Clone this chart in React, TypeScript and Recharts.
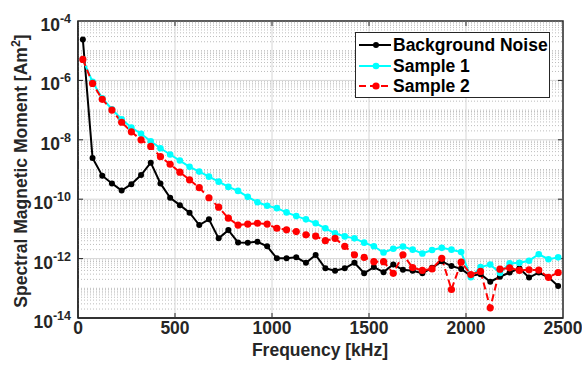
import React from 'react';
import { LineChart, Line, XAxis, YAxis, ReferenceLine, ReferenceArea } from 'recharts';

const FONT = '"Liberation Sans", Arial, sans-serif';
const TEXT = '#262626';

// frequency of each point [kHz]
const freqs = [
  25, 75, 125, 175, 225, 275, 325, 375, 425, 475,
  525, 575, 625, 675, 725, 775, 825, 875, 925, 975,
  1025, 1075, 1125, 1175, 1225, 1275, 1325, 1375, 1425, 1475,
  1525, 1575, 1625, 1675, 1725, 1775, 1825, 1875, 1925, 1975,
  2025, 2075, 2125, 2175, 2225, 2275, 2325, 2375, 2425, 2475,
];

// spectral magnetic moment [Am^2]
const backgroundNoise = [
  2.4e-5, 2.45e-9, 6.2e-10, 3.4e-10, 1.95e-10, 3.2e-10, 6.5e-10, 1.7e-9, 3.4e-10, 1.12e-10,
  6.3e-11, 3.5e-11, 1.35e-11, 2.1e-11, 4.8e-12, 9.1e-12, 3.5e-12, 3.45e-12, 3.7e-12, 2.6e-12,
  1.02e-12, 1.02e-12, 1.1e-12, 7.2e-13, 1.32e-12, 4.7e-13, 3.9e-13, 4.7e-13, 7.2e-13, 3.2e-13,
  5.2e-13, 3.5e-13, 6.3e-13, 4.2e-13, 3.9e-13, 3.2e-13, 4.9e-13, 8.1e-13, 5.6e-13, 4.5e-13,
  2.6e-13, 3.0e-13, 1.66e-13, 2.45e-13, 3.4e-13, 4.7e-13, 2.3e-13, 3.4e-13, 2.35e-13, 1.2e-13,
];

const sample1 = [
  5.1e-6, 8.9e-7, 2.5e-7, 1.07e-7, 4.9e-8, 2.6e-8, 1.6e-8, 8.9e-9, 5.2e-9, 3.2e-9,
  2.0e-9, 1.23e-9, 8.5e-10, 5.75e-10, 3.9e-10, 2.6e-10, 1.9e-10, 1.2e-10, 7.9e-11, 6.0e-11,
  5.0e-11, 3.6e-11, 2.7e-11, 2.1e-11, 1.55e-11, 1.05e-11, 7.1e-12, 5.6e-12, 4.8e-12, 3.45e-12,
  2.6e-12, 1.6e-12, 2.15e-12, 2.55e-12, 2.0e-12, 1.48e-12, 1.95e-12, 2.3e-12, 2.0e-12, 1.66e-12,
  2.35e-13, 5.2e-13, 6.3e-13, 3.3e-13, 6.9e-13, 7.2e-13, 8.5e-13, 1.4e-12, 9.5e-13, 1.1e-12,
];

const sample2 = [
  5.1e-6, 7.9e-7, 2.3e-7, 1.0e-7, 3.9e-8, 1.86e-8, 1.0e-8, 6.0e-9, 2.7e-9, 1.5e-9,
  8.1e-10, 4.5e-10, 2.45e-10, 1.12e-10, 5.4e-11, 2.3e-11, 1.35e-11, 1.45e-11, 1.55e-11, 1.45e-11,
  1.05e-11, 9.3e-12, 8.1e-12, 6.3e-12, 5.75e-12, 4.0e-12, 4.8e-12, 2.6e-12, 1.35e-12, 1.1e-12,
  7.9e-13, 7.9e-13, 3.2e-13, 1.35e-12, 5.0e-13, 4.0e-13, 4.5e-13, 1.02e-12, 9.1e-14, 7.6e-13,
  2.9e-13, 3.7e-13, 2.2e-14, 4.4e-13, 4.9e-13, 4.0e-13, 4.2e-13, 4.1e-13, 2.35e-13, 3.4e-13,
];

const xTicks = [0, 500, 1000, 1500, 2000, 2500];
const yTicks = [1e-14, 1e-12, 1e-10, 1e-8, 1e-6, 1e-4];

const data = freqs.map((f, i) => ({
  f,
  noise: backgroundNoise[i],
  s1: sample1[i],
  s2: sample2[i],
}));

// log grid: solid at labelled decades, dotted everywhere else
const majorY = [1e-12, 1e-10, 1e-8, 1e-6];
const minorY: number[] = [];
for (let e = -14; e < -4; e++) {
  for (let m = 1; m <= 9; m++) {
    if (m === 1 && e % 2 === 0) continue;
    minorY.push(m * Math.pow(10, e));
  }
}
const majorX = [500, 1000, 1500, 2000];
// inward tick marks, ~5px long
const TICK_X = 26;
const TICK_Y = 1.47;

const series = [
  { key: 'noise', name: 'Background Noise', color: '#000000', dash: undefined, r: 3 },
  { key: 's1', name: 'Sample 1', color: '#00ffff', dash: undefined, r: 3.3 },
  { key: 's2', name: 'Sample 2', color: '#ff0000', dash: '7 4', r: 3.6 },
];

const XTick = (props: any) => {
  const { x, y, payload } = props;
  return (
    <text x={x} y={y + 16} textAnchor="middle" fontSize={17.5} fontWeight="bold" fill={TEXT} fontFamily={FONT}>
      {payload.value}
    </text>
  );
};

const YTick = (props: any) => {
  const { x, y, payload } = props;
  const exp = Math.round(Math.log10(payload.value));
  return (
    <text x={x - 7} y={y + 10} textAnchor="end" fontSize={17.5} fontWeight="bold" fill={TEXT} fontFamily={FONT}>
      <tspan>10</tspan>
      <tspan dy={-8} fontSize={12.5}>{String(exp)}</tspan>
    </text>
  );
};

const LegendBox = () => (
  <div
    style={{
      position: 'absolute', left: 355, top: 32, width: 195, height: 66,
      boxSizing: 'border-box', border: `1.5px solid ${TEXT}`, background: '#fff',
      fontFamily: FONT, fontWeight: 'bold', fontSize: 17.5, color: '#000',
    }}
  >
    {series.map((s, i) => (
      <div key={s.key} style={{ position: 'absolute', left: 0, top: 2 + i * 20.5, height: 20, width: 192, display: 'flex', alignItems: 'center' }}>
        <svg width={37} height={20} style={{ flex: 'none' }}>
          <line x1={3} x2={35} y1={10} y2={10} stroke={s.color} strokeWidth={2} strokeDasharray={s.dash} />
          <circle cx={20} cy={10} r={s.r} fill={s.color} />
        </svg>
        <span style={{ lineHeight: '20px', whiteSpace: 'nowrap' }}>{s.name}</span>
      </div>
    ))}
  </div>
);

export default function App() {
  return (
    <div style={{ position: 'absolute', left: 0, top: 0, width: 582, height: 365, background: '#fff', overflow: 'hidden' }}>
      <LineChart width={582} height={365} data={data} margin={{ top: 21, right: 19, bottom: 0, left: 0 }}>
        <XAxis
          dataKey="f"
          type="number"
          domain={[0, 2500]}
          ticks={xTicks}
          height={47}
          tickSize={0}
          tickMargin={0}
          tickLine={false}
          tick={<XTick />}
          axisLine={{ stroke: TEXT, strokeWidth: 1.5 }}
          interval={0}
        />
        <YAxis
          type="number"
          scale="log"
          domain={[1e-14, 1e-4]}
          allowDataOverflow
          ticks={yTicks}
          width={78}
          tickSize={0}
          tickMargin={0}
          tickLine={false}
          tick={<YTick />}
          axisLine={{ stroke: TEXT, strokeWidth: 1.5 }}
          interval={0}
        />
        {minorY.map((v) => (
          <ReferenceLine key={`mn${v}`} y={v} stroke="#bdbdbd" strokeWidth={1} strokeDasharray="1 2" />
        ))}
        {majorY.map((v) => (
          <ReferenceLine key={`mj${v}`} y={v} stroke="#d6d6d6" strokeWidth={1} />
        ))}
        {majorX.map((v) => (
          <ReferenceLine key={`mx${v}`} x={v} stroke="#d6d6d6" strokeWidth={1} />
        ))}
        {majorX.map((v) => (
          <ReferenceLine key={`tb${v}`} segment={[{ x: v, y: 1e-14 }, { x: v, y: 1e-14 * TICK_Y }]} stroke={TEXT} strokeWidth={1} />
        ))}
        {majorX.map((v) => (
          <ReferenceLine key={`tt${v}`} segment={[{ x: v, y: 1e-4 }, { x: v, y: 1e-4 / TICK_Y }]} stroke={TEXT} strokeWidth={1} />
        ))}
        {majorY.map((v) => (
          <ReferenceLine key={`tl${v}`} segment={[{ x: 0, y: v }, { x: TICK_X, y: v }]} stroke={TEXT} strokeWidth={1} />
        ))}
        {majorY.map((v) => (
          <ReferenceLine key={`tr${v}`} segment={[{ x: 2500 - TICK_X, y: v }, { x: 2500, y: v }]} stroke={TEXT} strokeWidth={1} />
        ))}
        {series.map((s) => (
          <Line
            key={s.key}
            dataKey={s.key}
            name={s.name}
            type="linear"
            stroke={s.color}
            strokeWidth={2}
            strokeDasharray={s.dash}
            dot={{ r: s.r, fill: s.color, stroke: s.color, strokeWidth: 0, strokeDasharray: '' }}
            activeDot={false}
            isAnimationActive={false}
          />
        ))}
        <ReferenceArea x1={0} x2={2500} y1={1e-14} y2={1e-4} fill="none" stroke={TEXT} strokeWidth={1.5} />
      </LineChart>
      <LegendBox />
      <div
        style={{
          position: 'absolute', left: 21 - 170, top: 171 - 10, width: 340, height: 20, lineHeight: '20px',
          textAlign: 'center', transform: 'rotate(-90deg)', fontFamily: FONT, fontWeight: 'bold', fontSize: 17.5, color: TEXT,
          whiteSpace: 'nowrap',
        }}
      >
        Spectral Magnetic Moment [Am<sup style={{ fontSize: 12.5, lineHeight: 0 }}>2</sup>]
      </div>
      <div
        style={{
          position: 'absolute', left: 170, top: 340, width: 300, height: 20, lineHeight: '20px',
          textAlign: 'center', fontFamily: FONT, fontWeight: 'bold', fontSize: 17.5, color: TEXT, whiteSpace: 'nowrap',
        }}
      >
        Frequency [kHz]
      </div>
    </div>
  );
}
